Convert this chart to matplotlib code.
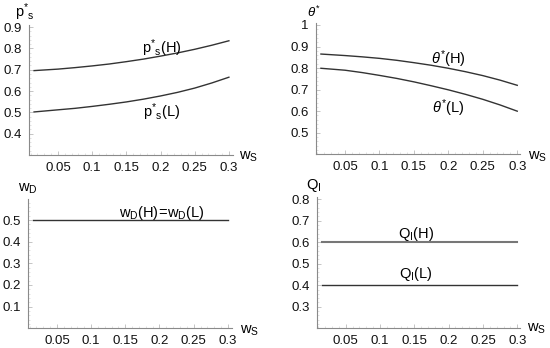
import matplotlib
matplotlib.use("Agg")
import matplotlib.pyplot as plt
from matplotlib.ticker import MultipleLocator

plt.rcParams["font.family"] = ["Liberation Sans", "DejaVu Sans"]
plt.rcParams["mathtext.fontset"] = "custom"
plt.rcParams["mathtext.rm"] = "Liberation Sans"
plt.rcParams["mathtext.it"] = "Liberation Sans:italic"

# ---------------------------------------------------------------------------
# Data
# ---------------------------------------------------------------------------
ws = [0.015, 0.05, 0.075, 0.1, 0.125, 0.15, 0.175, 0.2, 0.225, 0.25, 0.275, 0.3]

ps_H = [0.696, 0.703, 0.710, 0.718, 0.727, 0.738, 0.750, 0.764, 0.779, 0.796, 0.815, 0.836]
ps_L = [0.502, 0.512, 0.519, 0.528, 0.538, 0.549, 0.562, 0.577, 0.594, 0.614, 0.638, 0.665]

theta_H = [0.865, 0.858, 0.852, 0.845, 0.836, 0.825, 0.813, 0.799, 0.783, 0.765, 0.744, 0.720]
theta_L = [0.799, 0.790, 0.779, 0.766, 0.752, 0.736, 0.718, 0.699, 0.678, 0.655, 0.629, 0.600]

wD = [0.5, 0.5]
QI_H = [0.6, 0.6]
QI_L = [0.4, 0.4]
ws_flat = [0.015, 0.3]

x_ticks = [0.05, 0.1, 0.15, 0.2, 0.25, 0.3]
x_ticklabels = ["0.05", "0.1", "0.15", "0.2", "0.25", "0.3"]

ps_yticks = [0.4, 0.5, 0.6, 0.7, 0.8, 0.9]
theta_yticks = [0.5, 0.6, 0.7, 0.8, 0.9, 1.0]
wD_yticks = [0.1, 0.2, 0.3, 0.4, 0.5]
QI_yticks = [0.3, 0.4, 0.5, 0.6, 0.7, 0.8]

W, H = 550, 348
AX_COLOR = "#8a8a8a"
LINE_COLOR = "#333333"
FS = 9.5
LFS = 10.5

PS = r"\mathrm{p^{*}{}_{s}}"


def px_axes(fig, left, right, bottom, top):
    """Axes box given in pixel coordinates (y measured from top)."""
    return fig.add_axes([left / W, (H - bottom) / H, (right - left) / W, (bottom - top) / H])


def style_axes(ax, xlim, ylim, yticks, ylabels):
    ax.set_xlim(*xlim)
    ax.set_ylim(*ylim)
    for s in ("top", "right"):
        ax.spines[s].set_visible(False)
    for s in ("left", "bottom"):
        ax.spines[s].set_color(AX_COLOR)
        ax.spines[s].set_linewidth(0.8)
    ax.set_xticks(x_ticks)
    ax.set_xticklabels(x_ticklabels)
    ax.set_yticks(yticks)
    ax.set_yticklabels(ylabels)
    ax.xaxis.set_minor_locator(MultipleLocator(0.01))
    ax.yaxis.set_minor_locator(MultipleLocator(0.02))
    ax.tick_params(which="major", direction="in", length=3, width=0.6,
                   color="#bbbbbb", labelsize=FS, pad=5, labelcolor="#111111")
    ax.tick_params(which="minor", direction="in", length=1.5, width=0.4, color="#cccccc")
    ax.patch.set_alpha(0)


def fmt(v):
    return ("%g" % v)


fig = plt.figure(figsize=(W / 100, H / 100), dpi=100)
fig.patch.set_facecolor("white")

# --- top-left: p*_s ---
ax1 = px_axes(fig, 29, 233, 155, 25)
style_axes(ax1, (0.0076, 0.306), (0.3, 0.91), ps_yticks, [fmt(v) for v in ps_yticks])
ax1.plot(ws, ps_H, color=LINE_COLOR, lw=1.0)
ax1.plot(ws, ps_L, color=LINE_COLOR, lw=1.0)
ax1.text(0.202, 0.800, "$" + PS + r"\mathrm{(H)}$", fontsize=LFS, ha="center", va="center")
ax1.text(0.202, 0.501, "$" + PS + r"\mathrm{(L)}$", fontsize=LFS, ha="center", va="center")
ax1.text(0.328, 0.292, r"$\mathrm{w_{S}}$", fontsize=LFS, ha="center", va="center", clip_on=False)
ax1.text(0.002, 0.968, "$" + PS + "$", fontsize=LFS, ha="center", va="center", clip_on=False)

# --- top-right: theta* ---
ax2 = px_axes(fig, 315.7, 520, 154.3, 23)
style_axes(ax2, (0.0074, 0.304), (0.4, 1.009), theta_yticks, [fmt(v) for v in theta_yticks])
ax2.plot(ws, theta_H, color=LINE_COLOR, lw=1.0)
ax2.plot(ws, theta_L, color=LINE_COLOR, lw=1.0)
ax2.text(0.20, 0.842, r"$\theta^{*}\mathrm{(H)}$", fontsize=LFS, ha="center", va="center")
ax2.text(0.20, 0.615, r"$\theta^{*}\mathrm{(L)}$", fontsize=LFS, ha="center", va="center")
ax2.text(0.33, 0.387, r"$\mathrm{w_{S}}$", fontsize=LFS, ha="center", va="center", clip_on=False)
ax2.text(0.005, 1.056, r"$\theta^{*}$", fontsize=FS, ha="center", va="center", clip_on=False)

# --- bottom-left: w_D ---
ax3 = px_axes(fig, 27.7, 232, 328.3, 199)
style_axes(ax3, (0.0073, 0.306), (0.0, 0.597), wD_yticks, [fmt(v) for v in wD_yticks])
ax3.plot(ws_flat, wD, color=LINE_COLOR, lw=1.0)
ax3.text(0.203, 0.532, r"$\mathrm{w_{D}(H)\!=\!w_{D}(L)}$", fontsize=LFS, ha="center", va="center")
ax3.text(0.331, -0.011, r"$\mathrm{w_{S}}$", fontsize=LFS, ha="center", va="center", clip_on=False)
ax3.text(0.007, 0.643, r"$\mathrm{w_{D}}$", fontsize=LFS, ha="center", va="center", clip_on=False)

# --- bottom-right: Q_I ---
ax4 = px_axes(fig, 317.3, 520, 328.3, 196.7)
style_axes(ax4, (0.0087, 0.304), (0.2, 0.811), QI_yticks, [fmt(v) for v in QI_yticks])
ax4.plot(ws_flat, QI_H, color="#777777", lw=1.5)
ax4.plot(ws_flat, QI_L, color=LINE_COLOR, lw=1.0)
ax4.text(0.152, 0.639, r"$\mathrm{Q_{I}(H)}$", fontsize=LFS, ha="center", va="center")
ax4.text(0.152, 0.452, r"$\mathrm{Q_{I}(L)}$", fontsize=LFS, ha="center", va="center")
ax4.text(0.328, 0.197, r"$\mathrm{w_{S}}$", fontsize=LFS, ha="center", va="center", clip_on=False)
ax4.text(0.0035, 0.863, r"$\mathrm{Q_{I}}$", fontsize=LFS, ha="center", va="center", clip_on=False)

fig.savefig("out.png", dpi=100)
